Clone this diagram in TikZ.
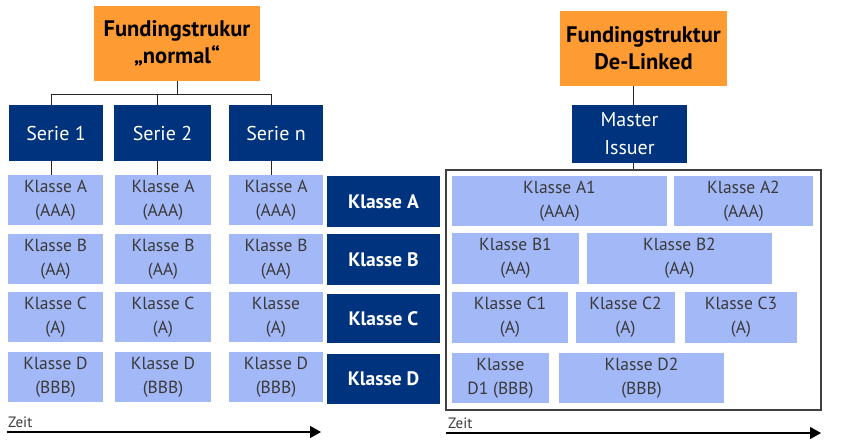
\documentclass[tikz,border=0pt]{standalone}
\usepackage{fontspec}
\setmainfont{PT Sans}
\usetikzlibrary{arrows.meta}
\definecolor{orng}{HTML}{FF9B33}
\definecolor{dblue}{HTML}{00337D}
\definecolor{lblue}{HTML}{A3B8F7}
\definecolor{txtg}{HTML}{3A3A3A}
\newcommand\bx[7]{\node[#1, minimum width={(#4-#2)*1pt}, minimum height={(#5-#3)*1pt}] (#6) at ({(#2+#4)/2},{(#3+#5)/2}) {#7};}
\begin{document}
\begin{tikzpicture}[x=1pt,y=-1pt,
  titlebox/.style={fill=orng, inner sep=0pt, align=center, font=\fontsize{22.5}{27}\selectfont\bfseries, text=black},
  seriebox/.style={fill=dblue, inner sep=0pt, align=center, font=\fontsize{20}{28}\selectfont, text=white},
  darkbox/.style={fill=dblue, inner sep=0pt, align=center, font=\fontsize{19.5}{24}\selectfont\bfseries, text=white},
  lightbox/.style={fill=lblue, inner sep=0pt, align=center, font=\fontsize{17.5}{24}\selectfont, text=txtg},
  conn/.style={draw=black!85, line width=0.9pt},
  zeitlbl/.style={font=\fontsize{15}{18}\selectfont, text=txtg, inner sep=0pt, anchor=base west},
  timearrow/.style={line width=1.3pt, -{Triangle[length=11pt,width=12pt]}}
]
\useasboundingbox (0,0) rectangle (848,444);
% left
\bx{titlebox}{94}{6}{260}{81}{o1}{Fundingstrukur\\„normal“}
\bx{seriebox}{9}{105}{103}{161}{s1}{Serie 1}
\bx{seriebox}{114}{105}{211}{161}{s2}{Serie 2}
\bx{seriebox}{229}{105}{323}{161}{sn}{Serie n}
\coordinate (j1) at (177,94);
\coordinate (h1) at (51,94);
\coordinate (h2) at (157,94);
\coordinate (h3) at (271,94);
\draw[conn] (o1.south -| j1) -- (j1);
\draw[conn] (h1 |- s1.north) -- (h1) -- (h3) -- (h3 |- sn.north);
\draw[conn] (h2) -- (h2 |- s2.north);
% classes
\bx{lightbox}{8}{175}{103}{225}{a1}{Klasse A\\(AAA)}
\bx{lightbox}{115}{175}{211}{225}{a2}{Klasse A\\(AAA)}
\bx{lightbox}{229}{175}{323}{225}{a3}{Klasse A\\(AAA)}
\bx{lightbox}{8}{234}{103}{284}{b1}{Klasse B\\(AA)}
\bx{lightbox}{115}{234}{211}{284}{b2}{Klasse B\\(AA)}
\bx{lightbox}{229}{234}{323}{284}{b3}{Klasse B\\(AA)}
\bx{lightbox}{8}{292}{103}{342}{c1}{Klasse C\\(A)}
\bx{lightbox}{115}{292}{211}{342}{c2}{Klasse C\\(A)}
\bx{lightbox}{229}{292}{323}{342}{c3}{Klasse\\(A)}
\bx{lightbox}{8}{352}{103}{402}{d1}{Klasse D\\(BBB)}
\bx{lightbox}{115}{352}{211}{402}{d2}{Klasse D\\(BBB)}
\bx{lightbox}{229}{352}{323}{402}{d3}{Klasse D\\(BBB)}
\draw[conn] (h1 |- s1.south) -- (h1 |- a1.north);
\draw[conn] (h2 |- s2.south) -- (h2 |- a2.north);
\draw[conn] (h3 |- sn.south) -- (h3 |- a3.north);
% dark classes
\bx{darkbox}{327}{176}{440}{227}{ka}{Klasse A}
\bx{darkbox}{327}{234}{440}{285}{kb}{Klasse B}
\bx{darkbox}{327}{294}{440}{343}{kc}{Klasse C}
\bx{darkbox}{327}{354}{440}{404}{kd}{Klasse D}
% time left
\node[zeitlbl] (z1) at (8,427) {Zeit};
\coordinate (t1s) at (7,432);
\coordinate (t1e) at (321,432);
\draw[timearrow] (t1s) -- (t1e);
% right
\bx{titlebox}{560}{11}{727}{86}{o2}{Fundingstruktur\\De-Linked}
\bx{seriebox}{572}{105}{687}{163}{mi}{Master\\Issuer}
\node[draw=black!75, line width=1.1pt, inner sep=0pt, minimum width=375pt, minimum height=240pt] (big) at (633.5,290) {};
\coordinate (j2) at (633,94);
\draw[conn] (o2.south -| j2) -- (j2 |- mi.north);
\draw[conn] (j2 |- mi.south) -- (j2 |- big.north);
\bx{lightbox}{452}{176}{667}{226}{ra1}{Klasse A1\\(AAA)}
\bx{lightbox}{674}{176}{813}{226}{ra2}{Klasse A2\\(AAA)}
\bx{lightbox}{452}{233}{579}{284}{rb1}{Klasse B1\\(AA)}
\bx{lightbox}{587}{233}{772}{284}{rb2}{Klasse B2\\(AA)}
\bx{lightbox}{452}{292}{568}{343}{rc1}{Klasse C1\\(A)}
\bx{lightbox}{576}{292}{675}{343}{rc2}{Klasse C2\\(A)}
\bx{lightbox}{685}{292}{797}{343}{rc3}{Klasse C3\\(A)}
\bx{lightbox}{452}{353}{549}{403}{rd1}{Klasse\\D1 (BBB)}
\bx{lightbox}{559}{353}{724}{403}{rd2}{Klasse D2\\(BBB)}
\node[zeitlbl] (z2) at (448,428) {Zeit};
\coordinate (t2s) at (446,433);
\coordinate (t2e) at (821,433);
\draw[timearrow] (t2s) -- (t2e);
\end{tikzpicture}
\end{document}
